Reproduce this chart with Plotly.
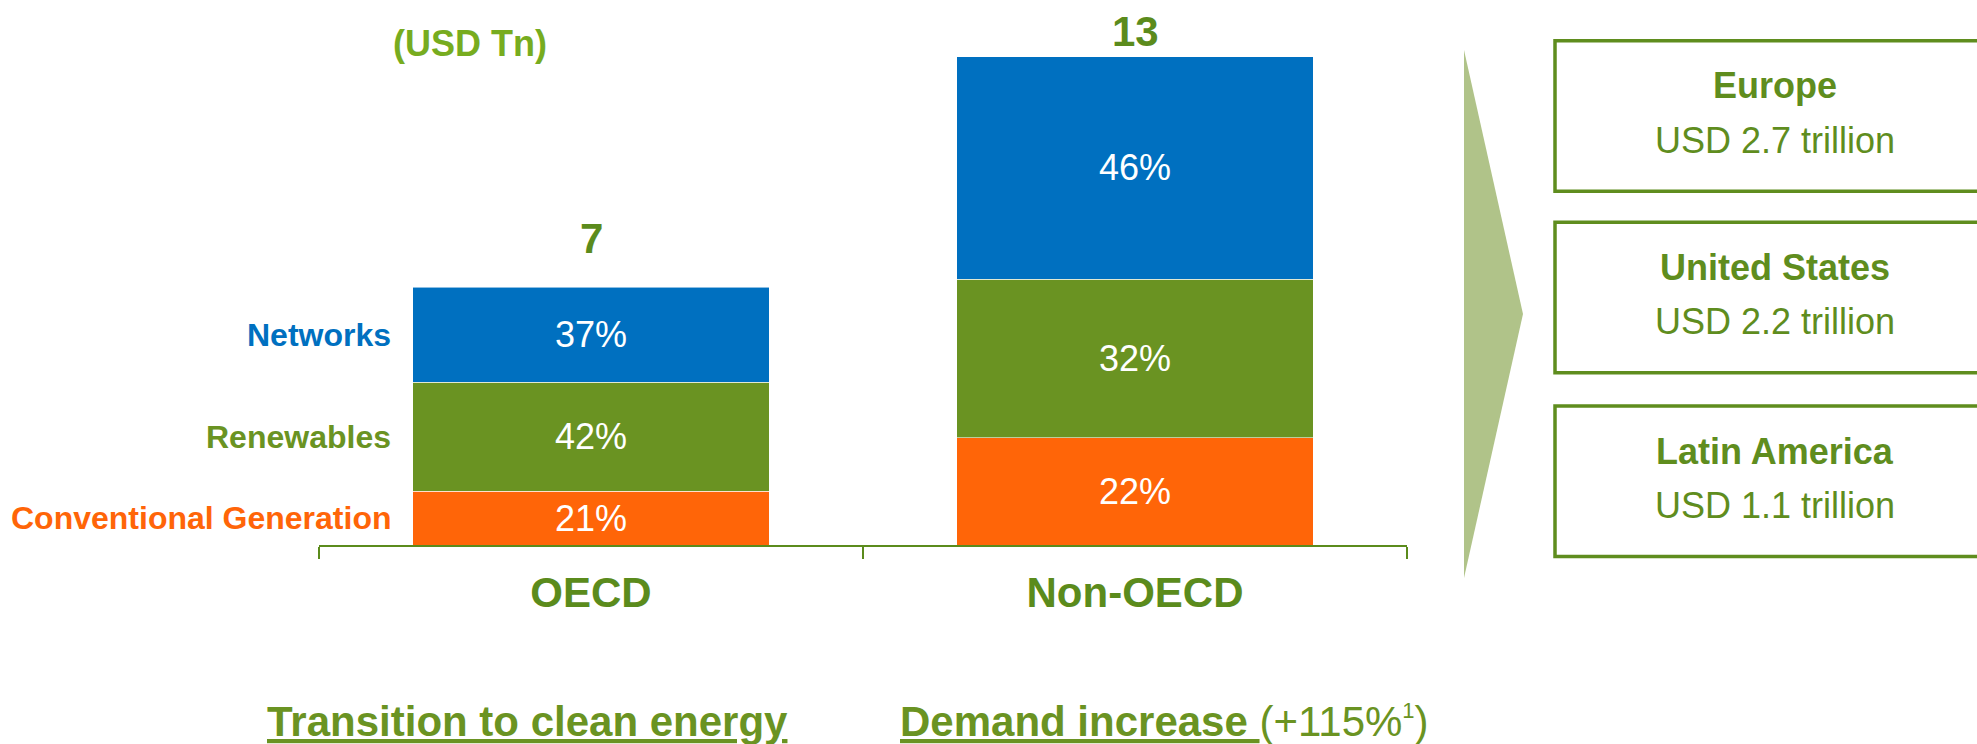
import plotly.graph_objects as go

# ---------------- data ----------------
categories = ["OECD", "Non-OECD"]
series_names = ["Conventional Generation", "Renewables", "Networks"]
# segment values (USD Tn)
conventional = [1.45, 2.88]
renewables = [2.93, 4.27]
networks = [2.55, 5.97]
# printed labels
conventional_pct = ["21%", "22%"]
renewables_pct = ["42%", "32%"]
networks_pct = ["37%", "46%"]
total_labels = ["7", "13"]

regions = ["Europe", "United States", "Latin America"]
region_values = ["USD 2.7 trillion", "USD 2.2 trillion", "USD 1.1 trillion"]

unit_label = "(USD Tn)"
footer_left = "Transition to clean energy"
footer_right_main = "Demand increase"
footer_right_note = "(+115%"
footer_right_sup = "1"

# ---------------- style ----------------
W, H = 1977, 744
FONT = "Liberation Sans, Arial, sans-serif"
BLUE = "#0070C0"
GREEN = "#6A9322"
ORANGE = "#FF6508"
DARK_GREEN = "#5B8B1C"
LIGHT_GREEN = "#77AC1F"
ARROW = "#B0C389"
BOX = "#5F8D1E"
colors = [ORANGE, GREEN, BLUE]
series_vals = [conventional, renewables, networks]
series_pcts = [conventional_pct, renewables_pct, networks_pct]
total_shift = [49, 25]

def px(x):
    return x / W

def py(y):
    return 1 - y / H

fig = go.Figure()
for name, vals, pcts, col in zip(series_names, series_vals, series_pcts, colors):
    fig.add_trace(go.Bar(
        x=categories, y=vals, name=name, text=pcts,
        textposition="inside", insidetextanchor="middle",
        textfont=dict(family=FONT, size=36, color="white"),
        constraintext="none",
        marker=dict(color=col, line=dict(color="rgba(255,255,255,0.55)", width=1)),
        width=0.656, hoverinfo="skip",
    ))

annotations = []
# totals above bars
totals = [sum(s[i] for s in series_vals) for i in range(len(categories))]
for i, (cat, tot, lab) in enumerate(zip(categories, totals, total_labels)):
    annotations.append(dict(x=cat, y=tot, xref="x", yref="y", text=lab, showarrow=False,
                            yanchor="middle", yshift=total_shift[i],
                            font=dict(family=FONT, size=42, color=DARK_GREEN, weight="bold")))

# series labels on the left of the OECD bar
cum = 0
for name, vals, col in zip(series_names, series_vals, colors):
    mid = cum + vals[0] / 2
    cum += vals[0]
    annotations.append(dict(x=px(393), y=mid, xref="paper", yref="y", text=name,
                            showarrow=False, xanchor="right", yanchor="middle",
                            font=dict(family=FONT, size=32, color=col, weight="bold")))

# unit label
annotations.append(dict(x=px(470), y=py(44), xref="paper", yref="paper", text=unit_label,
                        showarrow=False, xanchor="center", yanchor="middle",
                        font=dict(family=FONT, size=36, color=LIGHT_GREEN, weight="bold")))

# footers
annotations.append(dict(x=px(265), y=py(721), xref="paper", yref="paper",
                        text="<b><u>" + footer_left + "</u></b>", showarrow=False,
                        xanchor="left", yanchor="middle",
                        font=dict(family=FONT, size=42, color=GREEN)))
annotations.append(dict(x=px(898), y=py(721), xref="paper", yref="paper",
                        text="<b><u>" + footer_right_main + " </u></b>" + footer_right_note
                             + "<sup><span style='font-size:22px'>" + footer_right_sup
                             + "</span></sup>)",
                        showarrow=False, xanchor="left", yanchor="middle",
                        font=dict(family=FONT, size=42, color=GREEN)))

shapes = []
# arrow
shapes.append(dict(type="path", xref="paper", yref="paper",
                   path=f"M {px(1464)},{py(50)} L {px(1523)},{py(314)} L {px(1464)},{py(578)} Z",
                   fillcolor=ARROW, line=dict(width=0)))
# boxes
box_tops = [40.7, 222.3, 406.0]
box_h = 150.5
for top, reg, val in zip(box_tops, regions, region_values):
    shapes.append(dict(type="rect", xref="paper", yref="paper",
                       x0=px(1555), x1=px(2000), y0=py(top), y1=py(top + box_h),
                       line=dict(color=BOX, width=3.5), fillcolor="rgba(0,0,0,0)"))
    annotations.append(dict(x=px(1775), y=py(top + 45), xref="paper", yref="paper", text=reg,
                            showarrow=False, xanchor="center", yanchor="middle",
                            font=dict(family=FONT, size=36, color=BOX, weight="bold")))
    annotations.append(dict(x=px(1775), y=py(top + 99.5), xref="paper", yref="paper", text=val,
                            showarrow=False, xanchor="center", yanchor="middle",
                            font=dict(family=FONT, size=36, color=BOX)))

fig.update_layout(
    width=W, height=H, margin=dict(l=0, r=0, t=0, b=0),
    paper_bgcolor="white", plot_bgcolor="white",
    barmode="stack", showlegend=False,
    xaxis=dict(domain=[px(319), px(1407)], range=[-0.5, 1.5], type="category",
               showline=True, linecolor=DARK_GREEN, linewidth=2,
               ticks="outside", tickson="boundaries", ticklen=12, tickwidth=2,
               tickcolor=DARK_GREEN, ticklabelstandoff=10,
               tickfont=dict(family=FONT, size=42, color=DARK_GREEN, weight="bold"),
               showgrid=False, zeroline=False, fixedrange=True),
    yaxis=dict(domain=[1 - 545 / H, 1], range=[0, 14.65], visible=False, fixedrange=True),
    annotations=annotations, shapes=shapes,
    font=dict(family=FONT),
)

fig.write_html("out.html", config={"displayModeBar": False})
